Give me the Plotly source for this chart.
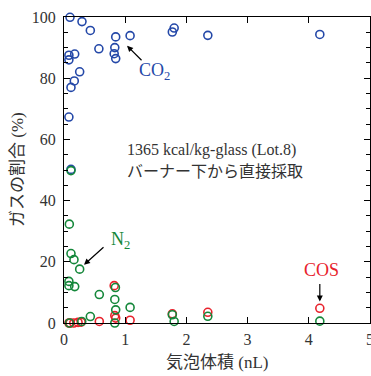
import plotly.graph_objects as go

# CO2 (blue)
co2_x = [0.098, 0.294, 0.43, 0.57, 0.845, 0.83, 0.82, 0.845, 1.08, 0.08, 0.08, 0.175, 0.256, 0.168, 0.114, 0.08, 0.114, 1.77, 1.80, 2.35, 4.18]
co2_y = [99.9, 98.5, 95.6, 89.6, 93.5, 90.0, 88.0, 86.4, 93.9, 87.5, 86.0, 87.9, 82.1, 79.1, 77.0, 67.3, 50.2, 95.1, 96.4, 94.0, 94.3]
# N2 (green)
n2_x = [0.087, 0.114, 0.163, 0.256, 0.08, 0.08, 0.175, 0.577, 0.84, 0.83, 0.845, 0.43, 0.29, 0.09, 0.83, 1.08, 1.77, 1.80, 2.35, 4.18, 0.114]
n2_y = [32.3, 22.7, 20.7, 17.6, 13.6, 12.2, 11.9, 9.3, 11.6, 7.7, 4.3, 2.1, 0.5, 0.0, 0.0, 5.1, 2.7, 0.5, 2.2, 0.6, 49.8]
# COS (red)
cos_x = [0.08, 0.10, 0.16, 0.23, 0.28, 0.577, 0.83, 0.845, 0.82, 1.08, 1.77, 2.35, 4.18]
cos_y = [0.0, 0.0, 0.0, 0.2, 0.3, 0.5, 2.4, 1.6, 12.2, 0.9, 3.0, 3.5, 4.8]

BLUE = "#2448a8"
GREEN = "#14873a"
RED = "#e8222c"
SERIF = "Liberation Serif"
JP = "Liberation Serif, Noto Sans CJK JP"

fig = go.Figure()
for xs, ys, col, name in [(co2_x, co2_y, BLUE, "CO2"), (cos_x, cos_y, RED, "COS"), (n2_x, n2_y, GREEN, "N2")]:
    fig.add_trace(go.Scatter(x=xs, y=ys, mode="markers", name=name, cliponaxis=False,
                             marker=dict(symbol="circle-open", size=8, color=col, line=dict(width=1.6, color=col))))

axis_common = dict(showline=True, linecolor="black", linewidth=1.2, mirror="ticks",
                   ticks="inside", tickcolor="black", ticklen=6, tickwidth=1,
                   showgrid=False, zeroline=False, automargin=False,
                   tickfont=dict(family=SERIF, size=16, color="#333"))

fig.update_xaxes(range=[0, 5], dtick=1, tick0=0, ticklabelstandoff=2, **axis_common)
fig.update_yaxes(range=[0, 100], dtick=20, tick0=0, ticklabelstandoff=4,
                 minor=dict(dtick=5, ticks="inside", ticklen=4, tickcolor="black", showgrid=False),
                 **axis_common)

anns = [
    # CO2 arrow and label
    dict(x=1.03, y=90.6, ax=16, ay=16, xref="x", yref="y", text="", showarrow=True,
         arrowhead=2, arrowsize=1, arrowwidth=1.2, arrowcolor="black"),
    dict(x=1.48, y=82.2, xref="x", yref="y", text="CO<sub>2</sub>", showarrow=False,
         font=dict(family=SERIF, size=18, color=BLUE)),
    # N2
    dict(x=0.327, y=19.0, ax=21, ay=-19, xref="x", yref="y", text="", showarrow=True,
         arrowhead=2, arrowsize=1, arrowwidth=1.2, arrowcolor="black"),
    dict(x=0.93, y=26.9, xref="x", yref="y", text="N<sub>2</sub>", showarrow=False,
         font=dict(family=SERIF, size=18, color=GREEN)),
    # COS
    dict(x=4.18, y=7.0, ax=0, ay=-19, xref="x", yref="y", text="", showarrow=True,
         arrowhead=2, arrowsize=1, arrowwidth=1.2, arrowcolor="black"),
    dict(x=4.2, y=17.4, xref="x", yref="y", text="COS", showarrow=False,
         font=dict(family=SERIF, size=18, color=RED)),
    # note text
    dict(x=1.0, y=56.7, xref="x", yref="y", text="1365 kcal/kg-glass (Lot.8)", showarrow=False,
         xanchor="left", font=dict(family=JP, size=16, color="#333")),
    dict(x=1.0, y=49.4, xref="x", yref="y", text="バーナー下から直接採取", showarrow=False,
         xanchor="left", font=dict(family=JP, size=16, color="#333")),
    # last x tick label (cut at the right edge, as in the reference)
    dict(x=5, y=(323 - 339) / 306, xref="x", yref="paper", text="5", showarrow=False,
         xanchor="center", yanchor="middle", font=dict(family=SERIF, size=16, color="#333")),
    # axis titles
    dict(x=(217 - 64) / 306, y=(323 - 362) / 306, xref="paper", yref="paper", text="気泡体積 (nL)",
         xanchor="center", yanchor="middle",
         showarrow=False, font=dict(family=JP, size=17, color="#333")),
    dict(x=(17 - 64) / 306, y=0.5, xref="paper", yref="paper", text="ガスの割合 (%)", textangle=-90,
         xanchor="center", yanchor="middle",
         showarrow=False, font=dict(family=JP, size=17, color="#333")),
]

fig.update_layout(width=371, height=376, margin=dict(l=64, r=1, t=17, b=53),
                  plot_bgcolor="white", paper_bgcolor="white", showlegend=False,
                  annotations=anns)

fig.write_html("out.html", config={"displayModeBar": False},
               post_script="document.body.style.margin='0';document.body.style.overflow='hidden';")
